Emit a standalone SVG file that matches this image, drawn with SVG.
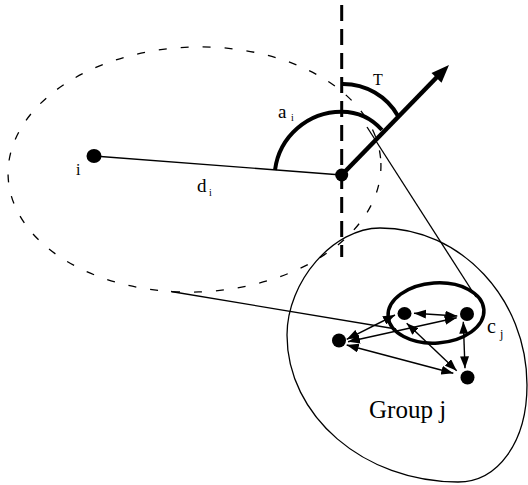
<svg xmlns="http://www.w3.org/2000/svg" width="528" height="485" viewBox="0 0 528 485">
  <style>
    .thin { fill: none; stroke: #000; stroke-width: 1.3; }
    .thick { fill: none; stroke: #000; stroke-width: 4; }
    .dash-ell { fill: none; stroke: #000; stroke-width: 1.3; stroke-dasharray: 8 14; }
    .axis { fill: none; stroke: #000; stroke-width: 3; stroke-dasharray: 16 8; }
    .dbl { fill: none; stroke: #000; stroke-width: 1.4; marker-start: url(#ah); marker-end: url(#ah); }
    .dot { fill: #000; }
    text { font-family: "Liberation Serif", "Times New Roman", serif; fill: #000; }
  </style>
  <defs>
    <marker id="ah" markerUnits="userSpaceOnUse" viewBox="0 0 12 9" markerWidth="12" markerHeight="9" refX="12" refY="4.5" orient="auto-start-reverse">
      <path d="M0,0 L12,4.5 L0,9 z" fill="#000"/>
    </marker>
  </defs>

  <!-- background shapes -->
  <g id="neighbourhood">
    <ellipse class="dash-ell" cx="194.5" cy="169.5" rx="186.5" ry="122.5" transform="rotate(-2 194.5 169.5)"/>
  </g>
  <g id="group-j">
    <path class="thin" d="M 380 228 C 461 228 527 299 527 385 C 527 442 498 482 458 482 C 364 482 287 416 287 335 C 287 281.5 333.5 228 380 228 Z"/>
    <text x="369" y="418" font-size="25">Group j</text>
  </g>
  <g id="cluster-cj">
    <ellipse cx="436" cy="313" rx="48" ry="30" transform="rotate(-4 436 313)" fill="none" stroke="#000" stroke-width="3.5"/>
    <text x="487" y="333" font-size="20">c</text>
    <text x="500" y="338" font-size="12">j</text>
  </g>

  <!-- connectors -->
  <g id="connectors">
    <line class="axis" x1="341.7" y1="5" x2="341.7" y2="257"/>
    <line class="thin" x1="94" y1="156" x2="341.7" y2="175"/>
    <line class="thin" x1="367" y1="127" x2="476" y2="297"/>
    <line class="thin" x1="171" y1="291.5" x2="396" y2="329"/>
    <path class="thick" d="M 275 170 A 67 67 0 0 1 341.7 111.7 A 54 54 0 0 1 382 130"/>
    <path class="thick" d="M 343 84 A 63 63 0 0 1 398 116"/>
    <line x1="341.7" y1="175" x2="437" y2="77" stroke="#000" stroke-width="4.5"/>
    <polygon points="449,65 441.5,82.8 431.5,73" fill="#000"/>
    <line class="dbl" x1="414" y1="313.3" x2="457.3" y2="316"/>
    <line class="dbl" x1="395" y1="315" x2="346.7" y2="339.3"/>
    <line class="dbl" x1="456.7" y1="317.7" x2="348" y2="341.7"/>
    <line class="dbl" x1="346.7" y1="345" x2="453.3" y2="373.3"/>
    <line class="dbl" x1="406.7" y1="323.3" x2="456.7" y2="370.7"/>
    <line class="dbl" x1="463.3" y1="321.7" x2="465" y2="368.3"/>
  </g>

  <!-- nodes -->
  <g id="node-i">
    <ellipse class="dot" cx="94" cy="156" rx="7.5" ry="7"/>
    <text x="76" y="175" font-size="16">i</text>
  </g>
  <g id="node-self">
    <circle class="dot" cx="341.7" cy="175" r="6.5"/>
  </g>
  <g id="label-di">
    <text x="197" y="192" font-size="19">d</text>
    <text x="209" y="196" font-size="10">i</text>
  </g>
  <g id="label-ai">
    <text x="278" y="118" font-size="19">a</text>
    <text x="291" y="121" font-size="10">i</text>
  </g>
  <g id="label-T">
    <text x="373" y="85" font-size="16">T</text>
  </g>
  <g id="node-a"><ellipse class="dot" cx="404.5" cy="313.5" rx="7" ry="6.5"/></g>
  <g id="node-b"><ellipse class="dot" cx="467" cy="314" rx="7" ry="7"/></g>
  <g id="node-c"><ellipse class="dot" cx="339" cy="340.5" rx="7" ry="7"/></g>
  <g id="node-d"><ellipse class="dot" cx="467.5" cy="377.5" rx="7" ry="7"/></g>
</svg>
